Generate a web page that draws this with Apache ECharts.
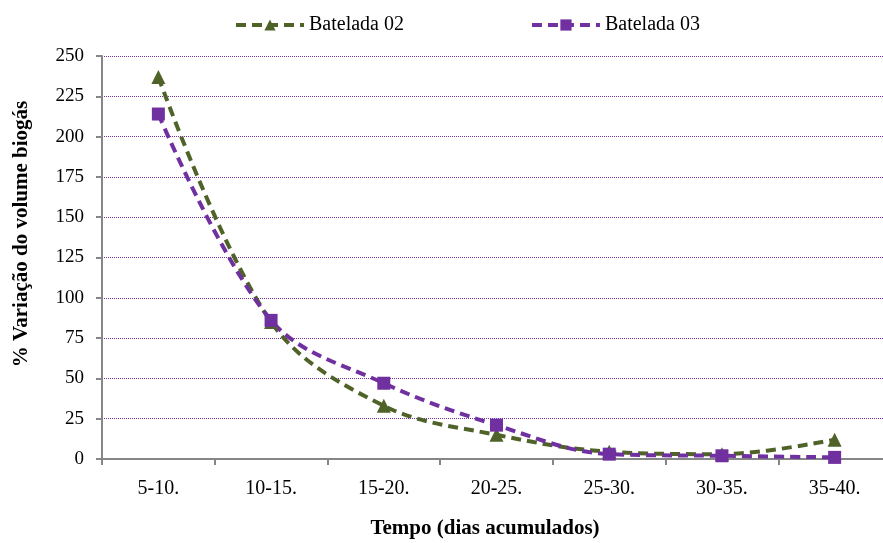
<!DOCTYPE html>
<html>
<head>
<meta charset="utf-8">
<script src="https://cdn.jsdelivr.net/npm/echarts@6/dist/echarts.min.js"></script>
<style>
  html, body { margin: 0; padding: 0; background: #fff; }
  #chart { width: 883px; height: 543px; }
</style>
</head>
<body>
<div id="chart"></div>
<script>
// Intervalos de tempo (dias acumulados)
var categories = ['5-10.', '10-15.', '15-20.', '20-25.', '25-30.', '30-35.', '35-40.'];
// % de variação do volume de biogás por batelada
var batelada02 = [237, 85, 33, 15, 4.5, 3, 12];
var batelada03 = [214, 86, 47, 21, 3, 2, 1];
var yTicks = { min: 0, max: 250, interval: 25 };

var serif = '"Liberation Serif", "Times New Roman", serif';
var chart = echarts.init(document.getElementById('chart'), null, { renderer: 'canvas' });

chart.setOption({
  animation: false,
  backgroundColor: '#ffffff',
  textStyle: { fontFamily: serif },
  legend: {
    top: 10,
    left: 229,
    itemGap: 126,
    itemWidth: 68,
    itemHeight: 14,
    lineStyle: { width: 4 },
    textStyle: { fontFamily: serif, fontSize: 20, color: '#000' },
    data: ['Batelada 02', 'Batelada 03']
  },
  // the plot area runs a few pixels past the right edge of the canvas
  grid: { left: 102, width: 789, top: 56, height: 403, containLabel: false, outerBoundsMode: 'none' },
  xAxis: {
    type: 'category',
    data: categories,
    boundaryGap: true,
    axisLine: { lineStyle: { color: '#868686', width: 2 } },
    axisTick: { show: true, length: 6, lineStyle: { color: '#868686', width: 2 } },
    axisLabel: { color: '#000', fontFamily: serif, fontSize: 20, margin: 20 },
    splitLine: { show: false }
  },
  yAxis: {
    type: 'value',
    min: yTicks.min,
    max: yTicks.max,
    interval: yTicks.interval,
    axisLine: { show: true, lineStyle: { color: '#868686', width: 2 } },
    axisTick: { show: true, length: 6, lineStyle: { color: '#868686', width: 2 } },
    axisLabel: { color: '#000', fontFamily: serif, fontSize: 19, margin: 18 },
    splitLine: { show: true, lineStyle: { color: '#7030A0', type: [1, 1], width: 1 } }
  },
  graphic: [
    {
      type: 'text',
      x: 485,
      y: 529,
      style: {
        text: 'Tempo (dias acumulados)',
        font: 'bold 21px ' + serif,
        fill: '#000',
        textAlign: 'center',
        textVerticalAlign: 'middle'
      }
    },
    {
      type: 'text',
      x: 22,
      y: 234,
      rotation: Math.PI / 2,
      style: {
        text: '% Variação do volume biogás',
        font: 'bold 21px ' + serif,
        fill: '#000',
        textAlign: 'center',
        textVerticalAlign: 'middle'
      }
    }
  ],
  series: [
    {
      name: 'Batelada 02',
      type: 'line',
      data: batelada02,
      smooth: 0.35,
      symbol: 'triangle',
      symbolSize: 14,
      itemStyle: { color: '#4F6228' },
      lineStyle: { color: '#4F6228', width: 4, type: [10, 6] }
    },
    {
      name: 'Batelada 03',
      type: 'line',
      data: batelada03,
      smooth: 0.35,
      symbol: 'rect',
      symbolSize: 13,
      itemStyle: { color: '#7030A0' },
      lineStyle: { color: '#7030A0', width: 4, type: [10, 6] }
    }
  ]
});
</script>
</body>
</html>
